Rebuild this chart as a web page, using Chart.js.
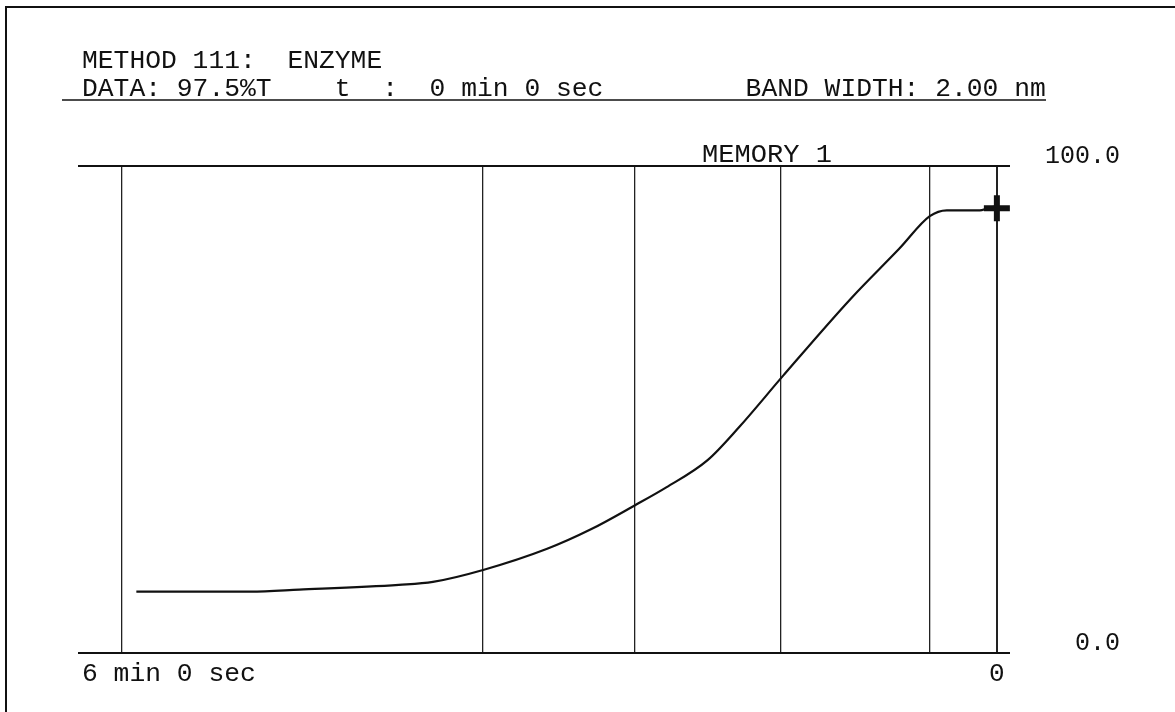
<!DOCTYPE html>
<html>
<head>
<meta charset="utf-8">
<script src="https://cdn.jsdelivr.net/npm/chart.js@4.4.0/dist/chart.umd.min.js"></script>
<style>
  html, body { margin: 0; padding: 0; background: #fff; }
  #wrap { width: 1175px; height: 712px; position: relative; }
</style>
</head>
<body>
<div id="wrap"><canvas id="c"></canvas></div>
<script>
// time remaining (sec), read left to right, and %T values
const timeSec = [354, 307, 287, 246, 232, 211, 185, 167, 149, 136, 119, 106, 88, 60, 40, 27.6, 20.6, 7, 4, 0];
const transmittance = [12.6, 12.6, 13.0, 14.0, 14.6, 17.1, 21.4, 25.4, 30.3, 34.0, 39.6, 46.4, 56.9, 72.8, 83.1, 89.7, 90.9, 90.9, 91.3, 91.8];
const markTimes = [360, 211.5, 149, 89, 27.6, 0];
const yTicks = [0, 100];
const xLabels = {360: '6 min 0 sec', 0: '0'};
const cursorPoint = [{x: 0, y: 91.3}];

const headerMethod = 'METHOD 111:  ENZYME';
const headerData = 'DATA: 97.5%T    t  :  0 min 0 sec         BAND WIDTH: 2.00 nm';
const memoryLabel = 'MEMORY 1';

const FONT = '"Liberation Mono", "DejaVu Sans Mono", monospace';
const PITCH = 15.8;

function fitText(ctx, str, x, y, w) {
  const m = ctx.measureText(str).width;
  ctx.save();
  ctx.translate(x, y);
  ctx.scale(w / m, 1);
  ctx.fillText(str, 0, 0);
  ctx.restore();
}

const printout = {
  id: 'printout',
  afterDraw(chart) {
    const ctx = chart.ctx;
    const xs = chart.scales.x;
    ctx.save();
    ctx.strokeStyle = '#111';
    ctx.fillStyle = '#111';

    // frame of the sheet
    ctx.lineWidth = 2;
    ctx.beginPath();
    ctx.moveTo(6, 712);
    ctx.lineTo(6, 7);
    ctx.lineTo(1175, 7);
    ctx.stroke();

    // header
    ctx.font = '26px ' + FONT;
    ctx.textBaseline = 'alphabetic';
    ctx.textAlign = 'left';
    fitText(ctx, headerMethod, 82, 68, headerMethod.length * PITCH);
    fitText(ctx, headerData, 82, 96, headerData.length * PITCH);

    ctx.lineWidth = 1.6;
    ctx.beginPath();
    ctx.moveTo(62, 100);
    ctx.lineTo(1046, 100);
    ctx.stroke();

    fitText(ctx, memoryLabel, 702, 162, 130);

    // x labels
    ctx.textAlign = 'left';
    const lbl = xLabels[360];
    fitText(ctx, lbl, 82, 681, lbl.length * PITCH);
    ctx.textAlign = 'center';
    ctx.fillText(xLabels[0], xs.getPixelForValue(0), 681);
    ctx.restore();
  }
};

new Chart(document.getElementById('c'), {
  type: 'line',
  data: {
    datasets: [
      {
        data: timeSec.map((t, i) => ({x: t, y: transmittance[i]})),
        borderColor: '#111',
        borderWidth: 2.2,
        pointRadius: 0,
        cubicInterpolationMode: 'monotone',
        fill: false
      },
      {
        data: cursorPoint,
        borderColor: '#111',
        backgroundColor: '#111',
        pointStyle: 'cross',
        pointRadius: 13,
        pointBorderWidth: 6,
        showLine: false
      }
    ]
  },
  options: {
    responsive: true,
    maintainAspectRatio: false,
    animation: false,
    layout: { padding: { top: 166, left: 78, bottom: 59, right: 55 } },
    plugins: { legend: { display: false }, tooltip: { enabled: false } },
    scales: {
      x: {
        type: 'linear',
        reverse: true,
        min: -5.4,
        max: 378,
        afterBuildTicks: s => { s.ticks = markTimes.map(v => ({value: v})); },
        afterFit: s => { s.height = 0; },
        ticks: { display: false },
        border: { display: false },
        grid: {
          drawTicks: false,
          color: '#222',
          lineWidth: ctx => (ctx.tick && ctx.tick.value === 0 ? 2 : 1.3)
        }
      },
      y: {
        position: 'right',
        min: 0,
        max: 100,
        afterBuildTicks: s => { s.ticks = yTicks.map(v => ({value: v})); },
        afterFit: s => { s.width = 110; },
        border: { display: false },
        grid: { drawTicks: false, color: '#111', lineWidth: 2 },
        ticks: {
          crossAlign: 'far',
          padding: 20,
          labelOffset: -10,
          color: '#111',
          font: { family: FONT, size: 25 },
          callback: v => v.toFixed(1)
        }
      }
    }
  },
  plugins: [printout]
});
</script>
</body>
</html>
